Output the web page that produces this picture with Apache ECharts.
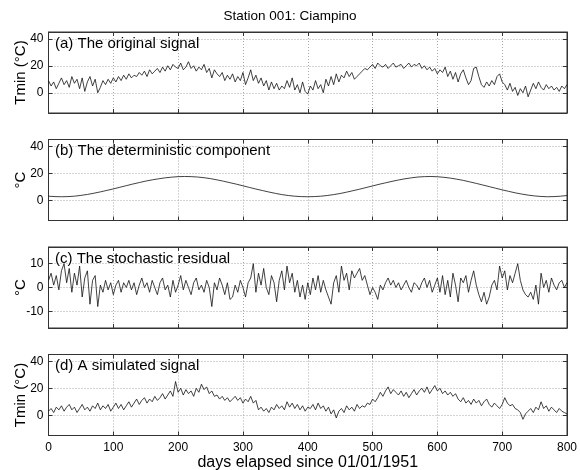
<!DOCTYPE html>
<html><head><meta charset="utf-8">
<script src="https://cdn.jsdelivr.net/npm/echarts@6/dist/echarts.min.js"></script>
<style>html,body{margin:0;padding:0;background:#fff}#c{width:580px;height:470px}</style>
</head><body><div id="c"></div>
<script>
const title = "Station 001: Ciampino";
const xTickLabels = [0,100,200,300,400,500,600,700,800];
const panelLabels = ["(a) The original signal","(b) The deterministic component","(c) The stochastic residual","(d) A simulated signal"];
const yNames = ["Tmin (°C)","°C","°C","Tmin (°C)"];
const stepNoisy = 4;   // days between listed values of a, c, d
const stepDet = 10;    // days between listed values of b

const original = [9,5,8,3,7,11,6,9,4,12,7,10,3,11,1,8,12,5,10,0,4,9,6,10,7,11,
8,12,9,13,10,14,11,13,12,15,13,16,12,17,14,16,18,15,19,16,20,17,21,19,18,22,17,19,23,18,20,16,19,17,21,15,18,11,17,14,12,15,9,13,10,14,8,12,9,15,
6,11,17,9,13,7,11,5,9,2,8,3,7,2,5,3,9,4,11,2,6,0,8,1,-1,5,2,9,3,6,0,10,5,12,6,14,8,13,11,16,12,15,10,12,14,16,18,17,19,21,
18,22,20,19,21,18,20,22,19,20,21,18,20,22,19,21,20,22,18,20,17,19,16,18,14,17,15,19,12,16,10,15,8,14,17,11,6,9,18,19,12,6,4,8,5,9,6,12,14,8,
6,2,7,1,4,-2,3,0,5,-3,2,7,3,8,4,2,6,3,5,2,4,1,5,3,6];

const deterministic = [3.0,2.7,2.6,2.7,3.0,3.6,4.3,5.2,6.2,7.3,8.4,9.6,10.8,12.0,13.1,14.2,15.1,15.9,16.6,17.1,
17.5,17.6,17.5,17.2,16.7,16.0,15.1,14.1,13.0,11.9,10.7,9.5,8.3,7.2,6.1,5.1,4.2,3.5,3.0,2.7,
2.6,2.7,3.0,3.5,4.2,5.0,6.0,7.1,8.2,9.4,10.6,11.8,12.9,14.0,15.0,15.9,16.6,17.2,17.5,17.6,
17.4,17.0,16.4,15.6,14.7,13.6,12.5,11.3,10.1,8.9,7.7,6.6,5.5,4.6,3.8,3.2,2.8,2.6,2.7,3.0,3.5];

const residual = [3,6,1,5,-1,7,10,2,8,-2,6,1,9,-4,4,7,-7,3,5,-8,1,-2,3,-1,2,-3,
1,3,-2,2,0,3,-1,2,-3,1,4,0,2,-2,3,0,-3,2,4,-1,1,-4,3,-2,1,5,-1,3,0,-3,2,4,-1,1,-2,3,0,-8,2,-1,4,1,-3,2,-5,-4,1,-2,3,
0,-4,2,4,10,-2,6,1,8,0,-3,5,2,-6,3,7,-1,9,2,6,-2,3,-4,1,-5,2,-3,4,-1,5,-2,3,-1,-4,-7,2,5,-2,9,3,6,-1,7,4,6,8,3,5,1,-3,
0,-2,-5,1,-1,2,4,1,3,0,2,-1,1,3,0,-2,2,1,-1,2,4,0,3,-2,1,4,-2,5,-3,3,-4,6,1,-6,4,2,5,-2,3,7,1,-3,-6,-2,-7,-4,1,3,-1,9,
4,7,-1,5,2,6,10,3,-1,-3,-4,-2,-5,1,-7,6,0,3,-2,4,1,-1,2,3,0,2];

const simulated = [3,5,2,6,4,7,3,6,8,4,6,2,5,8,4,6,3,7,5,9,4,7,5,8,3,6,
9,5,8,4,7,10,6,9,12,8,11,13,9,12,10,14,11,13,16,12,15,18,14,25,17,20,15,19,16,18,14,20,17,23,19,21,16,18,14,15,12,14,11,13,10,12,14,11,13,
9,12,10,14,9,11,4,6,3,5,2,6,4,8,5,7,4,10,6,9,5,8,4,7,3,6,5,8,4,9,5,7,3,6,1,4,-2,3,5,2,7,4,6,3,8,5,7,6,9,8,
12,10,13,17,14,18,21,16,19,17,15,18,14,17,13,16,19,15,18,20,17,21,16,19,22,18,20,16,18,15,17,14,16,12,10,13,9,11,8,12,9,11,7,10,12,8,6,9,7,5,
8,13,9,7,8,5,4,2,-3,1,3,5,2,6,4,10,5,7,3,6,4,2,5,3,2,1];

const yRanges = [[-15,45],[-15,45],[-17,17],[-15,45]];
const yTicks = [[0,20,40],[0,20,40],[-10,0,10],[0,20,40]];

function toPairs(arr, step){ return arr.map((v,i)=>[i*step, v]); }
const seriesData = [toPairs(original,stepNoisy), toPairs(deterministic,stepDet), toPairs(residual,stepNoisy), toPairs(simulated,stepNoisy)];

const FONT = "Liberation Sans, Arial, sans-serif";
const AX = '#333';
const chart = echarts.init(document.getElementById('c'), null, {renderer:'canvas'});
const tops = [32, 139.5, 247, 354.5];
const H = 81;
const grids=[], xAxes=[], yAxes=[], series=[], titles=[];
titles.push({text:title, left:'center', top:4, textStyle:{fontFamily:FONT,fontSize:13.5,fontWeight:'normal',color:'#000'}});
for(let k=0;k<4;k++){
  grids.push({left:48.5, right:13, top:tops[k], height:H, show:true, borderColor:AX, borderWidth:1, backgroundColor:'transparent', containLabel:false, outerBoundsMode:'none'});
  xAxes.push({type:'value', gridIndex:k, min:0, max:800, interval:100, position:'bottom',
    axisLine:{show:true, onZero:false, lineStyle:{color:AX,width:1}},
    axisTick:{show:true, inside:true, length:4, lineStyle:{color:AX}},
    axisLabel:{show:k===3, color:'#000', fontFamily:FONT, fontSize:12, margin:6, formatter:(v)=>xTickLabels.includes(v)?String(v):''},
    splitLine:{show:true, lineStyle:{color:'#aaa', type:[1,2], width:1}},
    name: k===3 ? 'days elapsed since 01/01/1951' : '', nameLocation:'middle', nameGap:19, nameMoveOverlap:false,
    nameTextStyle:{fontFamily:FONT, fontSize:16, color:'#000'}
  });
  xAxes.push({type:'value', gridIndex:k, min:0, max:800, interval:100, position:'top',
    axisLine:{show:true, onZero:false, lineStyle:{color:AX,width:1}},
    axisTick:{show:true, inside:true, length:4, lineStyle:{color:AX}},
    axisLabel:{show:false}, splitLine:{show:false}
  });
  yAxes.push({type:'value', gridIndex:k, min:yRanges[k][0], max:yRanges[k][1], position:'left',
    axisLine:{show:true, onZero:false, lineStyle:{color:AX,width:1}},
    axisTick:{show:true, inside:true, length:4, customValues:yTicks[k], lineStyle:{color:AX}},
    axisLabel:{show:true, customValues:yTicks[k], color:'#000', fontFamily:FONT, fontSize:12, margin:5},
    splitLine:{show:true, lineStyle:{color:'#aaa', type:[1,2], width:1}},
    name:yNames[k], nameLocation:'middle', nameGap: 20, nameRotate:90, nameMoveOverlap:false,
    nameTextStyle:{fontFamily:FONT, fontSize:15, color:'#000'}
  });
  yAxes.push({type:'value', gridIndex:k, min:yRanges[k][0], max:yRanges[k][1], position:'right',
    axisLine:{show:true, onZero:false, lineStyle:{color:AX,width:1}},
    axisTick:{show:true, inside:true, length:4, customValues:yTicks[k], lineStyle:{color:AX}},
    axisLabel:{show:false}, splitLine:{show:false}
  });
  series.push({type:'line', xAxisIndex:2*k, yAxisIndex:2*k, data:seriesData[k], symbol:'none', animation:false,
    lineStyle:{color:'#111', width:0.8}});
  titles.push({text:panelLabels[k], left:55, top:tops[k]+4, padding:0, textStyle:{fontFamily:FONT,fontSize:15,fontWeight:'normal',color:'#000'}});
}
chart.setOption({animation:false, backgroundColor:'#fff', title:titles, grid:grids, xAxis:xAxes, yAxis:yAxes, series:series});
</script></body></html>
